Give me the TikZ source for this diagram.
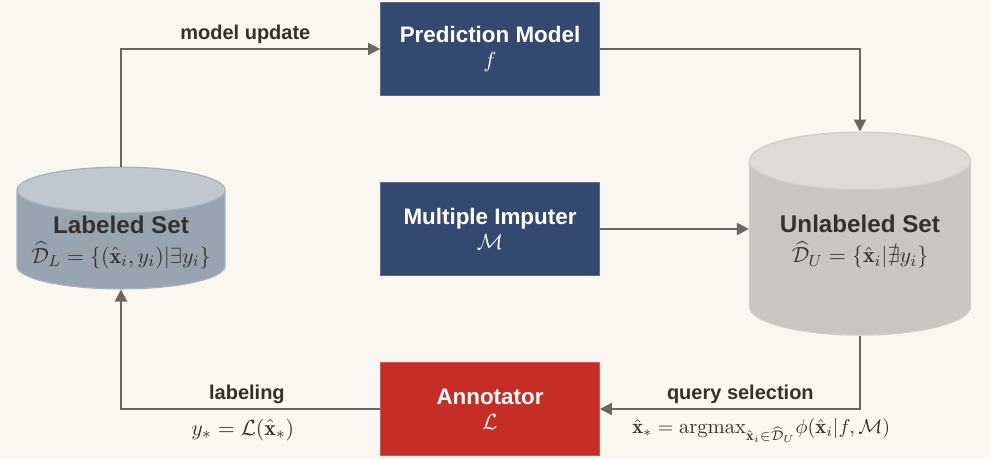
\documentclass[tikz,border=0pt]{standalone}
\usepackage{amsmath,amssymb}
\usepackage{fontspec}
\setsansfont{Liberation Sans}
\usetikzlibrary{arrows.meta, shapes.geometric, positioning}
\definecolor{BgCream}{HTML}{FAF6F0}
\definecolor{ModelNavy}{HTML}{34496F}
\definecolor{AnnotRed}{HTML}{C42E26}
\definecolor{LabBody}{HTML}{99A4B1}
\definecolor{LabTop}{HTML}{BFC6CD}
\definecolor{UnlBody}{HTML}{C9C5C0}
\definecolor{UnlTop}{HTML}{DEDAD5}
\definecolor{FlowGray}{HTML}{6B6661}
\definecolor{InkDark}{HTML}{35302B}

\begin{document}
\begin{tikzpicture}[node distance=90pt, on grid, >={Triangle[length=6pt,width=6pt]},
    block/.style={rectangle, fill=#1, draw=#1!80!white, text=white, align=center, minimum width=109.5pt, minimum height=46.5pt, inner sep=2pt, font=\sffamily\bfseries\fontsize{11.2}{14}\selectfont},
    store/.style={cylinder, shape border rotate=90, cylinder uses custom fill, cylinder body fill=#1, text=InkDark, align=center, draw=#1!85!white, line width=0.6pt, inner sep=1pt, font=\sffamily\bfseries\fontsize{12.1}{15}\selectfont},
    flow/.style={->, draw=FlowGray, line width=1pt},
    flowlabel/.style={text=InkDark, font=\sffamily\bfseries\fontsize{10}{12}\selectfont},
    mathlabel/.style={text=InkDark, font=\fontsize{11}{13}\selectfont}]

        \fill[BgCream] (0,0) rectangle (495.5pt,-229.5pt);

        \node[block=ModelNavy] (pred) at (245pt,-24.5pt) {Prediction Model\\[-1.5pt]\normalfont$f$};
        \node[block=ModelNavy, below=of pred] (imp) {Multiple Imputer\\[-1.5pt]\normalfont$\mathcal{M}$};
        \node[block=AnnotRed, below=of imp] (ann) {Annotator\\[-1.5pt]\normalfont$\mathcal{L}$};
        \node[store=LabBody, cylinder end fill=LabTop, minimum width=104pt, minimum height=59.5pt, aspect=0.25, left=184.5pt of imp, yshift=-6.5pt] (lab)
            {Labeled Set\\\normalfont\fontsize{11}{13}\selectfont$\widehat{\mathcal{D}}_L=\{(\hat{\mathbf{x}}_i,y_i)|\exists y_i\}$};
        \node[store=UnlBody, cylinder end fill=UnlTop, minimum width=110.5pt, minimum height=101.5pt, aspect=0.35, right=185pt of imp, yshift=-11pt] (unl)
            {Unlabeled Set\\\normalfont\fontsize{11}{13}\selectfont$\widehat{\mathcal{D}}_U=\{\hat{\mathbf{x}}_i|\nexists y_i\}$\rule[-12pt]{0pt}{12pt}};

        \draw[flow] (lab.top) |- node[pos=0.74, above=-1pt, flowlabel] {model update} (pred.west);
        \draw[flow] (pred.east) -| (unl.top);
        \draw[flow] (imp.east) -- (imp.east -| unl.west);
        \draw[flow] (unl.bottom) |- node[pos=0.73, above=-1pt, flowlabel] {query selection}
            node[pos=0.69, below=1pt, mathlabel, font=\fontsize{10.3}{12}\selectfont] {$\hat{\mathbf{x}}_*=\mathrm{argmax}_{\hat{\mathbf{x}}_i\in\widehat{\mathcal{D}}_U}\phi(\hat{\mathbf{x}}_i|f,\mathcal{M})$} (ann.east);
        \draw[flow] (ann.west) -| node[pos=0.257, above=-1pt, flowlabel] {labeling}
            node[pos=0.265, below=1pt, mathlabel] {$y_*=\mathcal{L}(\hat{\mathbf{x}}_*)$} (lab.bottom);

    \end{tikzpicture}
\end{document}
